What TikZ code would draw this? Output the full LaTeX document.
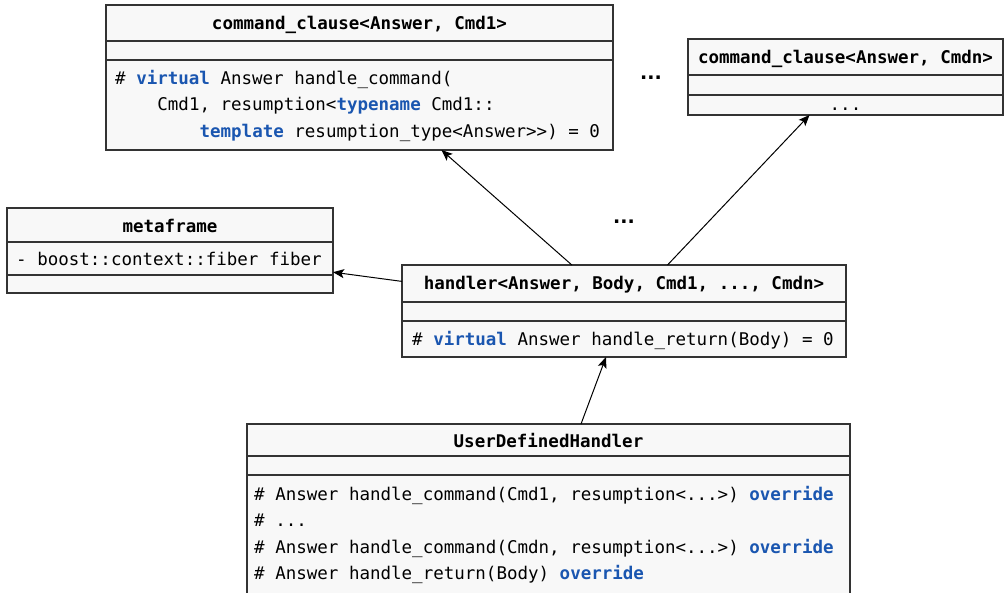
\documentclass[tikz,border=0pt]{standalone}
\usepackage{fontspec}
\usetikzlibrary{arrows.meta}
\newfontfamily\monof{DejaVu Sans Mono}
\newfontfamily\dotf{DejaVu Sans}
\definecolor{boxfill}{HTML}{F8F8F8}
\definecolor{boxline}{HTML}{333333}
\definecolor{kwblue}{HTML}{1A56B0}
\newcommand{\kw}[1]{\textcolor{kwblue}{\bfseries #1}}
\tikzset{
  umlbox/.style={draw=boxline, fill=boxfill, line width=1.2pt, inner sep=0pt, outer sep=0pt},
  divider/.style={draw=boxline, line width=1.2pt},
  txt/.style={font=\monof\fontsize{17.5}{20}\selectfont, inner sep=0pt, anchor=west, text height=13.5pt, text depth=1.5pt},
  ttl/.style={font=\monof\bfseries\fontsize{17.5}{20}\selectfont, inner sep=0pt, text height=13.5pt, text depth=1.5pt},
  conn/.style={draw=black, line width=1pt, -{Stealth[length=11pt,width=9pt,inset=2.5pt]}},
  dots/.style={font=\dotf\bfseries\fontsize{19}{20}\selectfont, inner sep=0pt}
}
\begin{document}
\begin{tikzpicture}[x=1pt,y=-1pt]
\useasboundingbox (0,0) rectangle (1004,592);
% command_clause<Answer, Cmd1>
\node[umlbox, minimum width=507pt, minimum height=145pt] (c1) at (359.5,77.5) {};
\draw[divider] (106,41) -- (613,41);
\draw[divider] (106,60) -- (613,60);
\node[ttl] (c1t) at (359.5,23) {command\_clause<Answer, Cmd1>};
\node[txt] (c1a) at (115,78) {\# \kw{virtual} Answer handle\_command(};
\node[txt] (c1b) at (157.2,104) {Cmd1, resumption<\kw{typename} Cmd1::};
\node[txt] (c1c) at (199.4,131) {\kw{template} resumption\_type<Answer>>) = 0};
% command_clause<Answer, Cmdn>
\node[umlbox, minimum width=315pt, minimum height=76pt] (cn) at (845.5,77) {};
\draw[divider] (688,75) -- (1003,75);
\draw[divider] (688,95) -- (1003,95);
\node[ttl] (cnt) at (845.5,57) {command\_clause<Answer, Cmdn>};
\node[txt, anchor=center] (cna) at (845.5,104) {...};
% metaframe
\node[umlbox, minimum width=326pt, minimum height=85pt] (mf) at (170,250.5) {};
\draw[divider] (7,242) -- (333,242);
\draw[divider] (7,275) -- (333,275);
\node[ttl] (mft) at (170,226) {metaframe};
\node[txt] (mfa) at (16,259) {- boost::context::fiber fiber};
% handler
\node[umlbox, minimum width=444pt, minimum height=92pt] (hd) at (624,311) {};
\draw[divider] (402,302) -- (846,302);
\draw[divider] (402,321) -- (846,321);
\node[ttl] (hdt) at (624,283) {handler<Answer, Body, Cmd1, ..., Cmdn>};
\node[txt] (hda) at (412,339) {\# \kw{virtual} Answer handle\_return(Body) = 0};
% UserDefinedHandler
\node[umlbox, minimum width=603pt, minimum height=190pt] (ud) at (548.5,519) {};
\draw[divider] (247,456) -- (850,456);
\draw[divider] (247,475) -- (850,475);
\node[ttl] (udt) at (548.5,441) {UserDefinedHandler};
\node[txt] (uda) at (254,494) {\# Answer handle\_command(Cmd1, resumption<...>) \kw{override}};
\node[txt] (udb) at (254,520) {\# ...};
\node[txt] (udc) at (254,547) {\# Answer handle\_command(Cmdn, resumption<...>) \kw{override}};
\node[txt] (udd) at (254,573) {\# Answer handle\_return(Body) \kw{override}};
% ellipses
\node[dots] (e1) at (651,78) {...};
\node[dots] (e2) at (624,222) {...};
% connectors
\draw[conn] (hd) -- (c1);
\draw[conn] (hd) -- (cn);
\draw[conn] (hd) -- (mf);
\draw[conn] ([xshift=32.5pt]ud.north) -- ([xshift=-18pt]hd.south);
\end{tikzpicture}
\end{document}
